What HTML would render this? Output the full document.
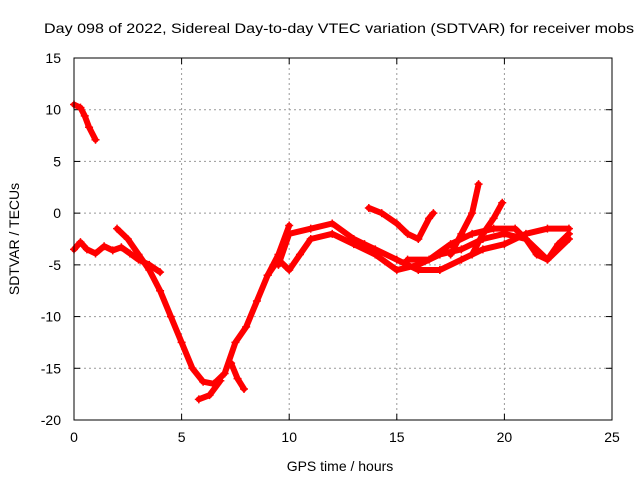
<!DOCTYPE html>
<html><head><meta charset="utf-8"><style>
body{margin:0;background:#fff}
svg{display:block;font-family:"Liberation Sans",sans-serif;font-size:14px}
</style></head><body>
<svg id="c" width="640" height="480">
<text x="339" y="33" text-anchor="middle" textLength="590" lengthAdjust="spacingAndGlyphs">Day 098 of 2022, Sidereal Day-to-day VTEC variation (SDTVAR) for receiver mobs</text>
<text x="340" y="471" text-anchor="middle">GPS time / hours</text>
<text transform="translate(19,239) rotate(-90)" text-anchor="middle">SDTVAR / TECUs</text>
<g id="grid"></g><g id="marks"></g>
<rect x="74" y="58" width="538" height="362" fill="none" stroke="#000"/>
</svg>
<script>
const xTicks=[0,5,10,15,20,25];
const yTicks=[15,10,5,0,-5,-10,-15,-20];
const trackA=[[0,10.5],[0.3,10.2],[0.5,9.4],[0.7,8.3],[1.0,7.1]];
const trackB=[[0,-3.5],[0.3,-2.8],[0.6,-3.5],[1,-3.9],[1.4,-3.2],[1.8,-3.6],[2.2,-3.3],[2.6,-3.9],[3,-4.5],[3.5,-5],[4,-5.7]];
const trackC=[[2,-1.5],[2.5,-2.5],[3,-4],[3.5,-5.5],[4,-7.5],[4.5,-10],[5,-12.5],[5.5,-15],[6,-16.3],[6.5,-16.5],[7,-15.5],[7.5,-12.5],[8,-11],[8.5,-8.5],[9,-6],[9.5,-4],[10,-1.2]];
const trackD=[[5.8,-18],[6.3,-17.6],[6.8,-16.2]];
const trackE=[[7.3,-14.5],[7.6,-16],[7.9,-17]];
const trackF=[[9,-6],[9.5,-4.5],[10,-5.5],[10.5,-4],[11,-2.5],[12,-2],[13,-3],[14,-4],[15,-5.5],[16,-5],[17,-4],[18,-3.5],[19,-2.5],[20,-2],[21,-2.5],[22,-4.5],[23,-2.5]];
const trackG=[[9.5,-5],[10,-2],[11,-1.5],[12,-1],[13,-2.5],[13.5,-3],[14,-3.5],[15,-4.5],[16,-5.5],[17,-5.5],[18,-4.5],[19,-3.5],[20,-3],[21,-2],[22,-1.5],[23,-1.5]];
const trackH=[[13.7,0.5],[14.3,0],[15,-1],[15.5,-2],[16,-2.5],[16.5,-0.5],[16.7,0]];
const trackI=[[17.5,-4],[18,-2],[18.5,0],[18.8,2.8]];
const trackJ=[[18.5,-4],[19,-2],[19.5,-0.5],[19.9,1]];
const trackK=[[15.5,-4.5],[16.5,-4.5],[17.5,-3],[18.5,-2],[19.5,-1.5],[20.5,-1.5],[21,-2.5],[21.5,-4],[22,-4.5],[22.5,-3],[23,-2]];
const tracks=[trackA,trackB,trackC,trackD,trackE,trackF,trackG,trackH,trackI,trackJ,trackK];
const NS="http://www.w3.org/2000/svg";
const X=v=>74+v*538/25, Y=v=>58+(15-v)*362/35;
const grid=document.getElementById('grid'), marks=document.getElementById('marks');
function mk(tag,at,p){const e=document.createElementNS(NS,tag);for(const k in at)e.setAttribute(k,at[k]);p.appendChild(e);return e;}
xTicks.forEach(t=>{
 if(t>0&&t<25){const l=mk('line',{x1:X(t),x2:X(t),y1:58,y2:420,stroke:'#999','stroke-dasharray':'2,3'},grid);
 
 }
 const tx=mk('text',{x:X(t),y:442,'text-anchor':'middle'},grid);tx.textContent=t;
 
 
 mk('line',{x1:X(t),x2:X(t),y1:420,y2:414,stroke:'#000'},grid);mk('line',{x1:X(t),x2:X(t),y1:58,y2:64,stroke:'#000'},grid);
});
yTicks.forEach(t=>{
 if(t>-20&&t<15){const l=mk('line',{x1:74,x2:612,y1:Y(t),y2:Y(t),stroke:'#999','stroke-dasharray':'2,3'},grid);
 
 }
 const tx=mk('text',{x:61,y:Y(t)+5,'text-anchor':'end'},grid);tx.textContent=t;
 
 
 mk('line',{x1:74,x2:80,y1:Y(t),y2:Y(t),stroke:'#000'},grid);mk('line',{x1:612,x2:606,y1:Y(t),y2:Y(t),stroke:'#000'},grid);
});
tracks.forEach(tr=>{
 const pl=mk('polyline',{points:tr.map(p=>X(p[0])+','+Y(p[1])).join(' '),fill:'none',stroke:'#f00','stroke-width':6,'stroke-linejoin':'round','stroke-linecap':'round'},marks);
 
 
 tr.forEach(p=>{const x=X(p[0]),y=Y(p[1]);
  const m=mk('path',{d:`M${x-4},${y}H${x+4}M${x},${y-4}V${y+4}`,stroke:'#f00','stroke-width':1.5},marks);
  
  });
});
</script>
</body></html>
